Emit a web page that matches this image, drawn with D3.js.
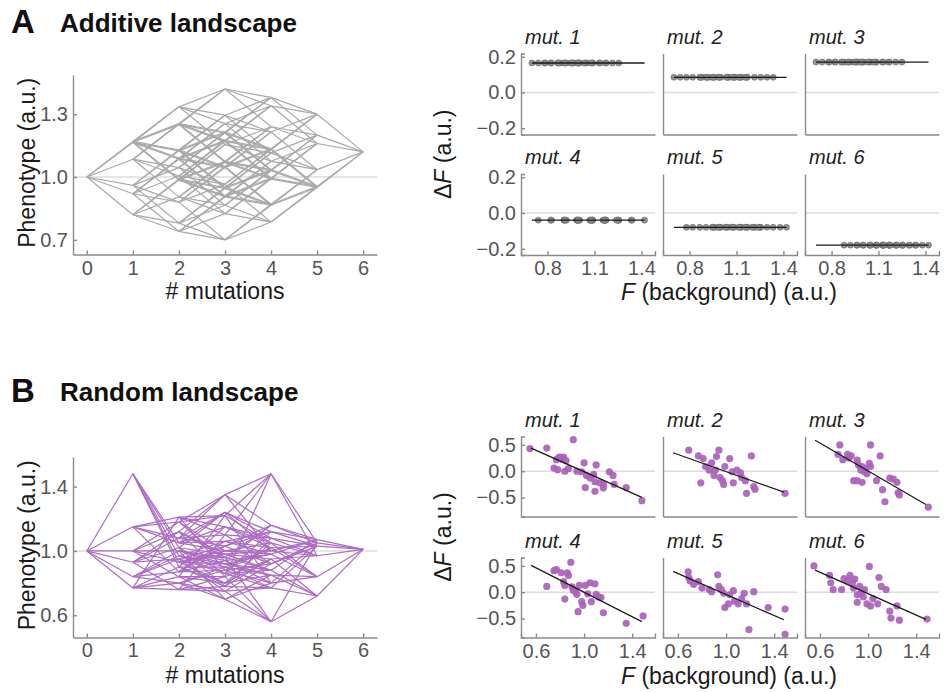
<!DOCTYPE html>
<html lang="en">
<head>
<meta charset="UTF-8">
<title>Additive and random landscapes</title>
<script src="https://cdnjs.cloudflare.com/ajax/libs/d3/7.8.5/d3.min.js"></script>
<style>
  body { margin: 0; background: #fff; }
  svg { font-family: "Liberation Sans", Arial, sans-serif; }
  .axis path, .axis line { stroke: #8a8a8a; stroke-width: 1.4; }
  .axis text { fill: #555; font-size: 20px; font-family: "Liberation Sans", Arial, sans-serif; }
</style>
</head>
<body>
<svg id="fig" width="947" height="692"></svg>
<script>
// panel names and x values of the landscapes
var mutations = ["mut. 1", "mut. 2", "mut. 3", "mut. 4", "mut. 5", "mut. 6"];
var mutationCounts = [0, 1, 2, 3, 4, 5, 6];

// additive landscape: wild type phenotype + effect of each mutation
var additiveBase = 1.0;
var additiveEffects = [0.165, 0.085, 0.17, -0.04, -0.08, -0.18];

// random landscape: phenotype of every genotype (index = bitmask of mutations 1..6)
var randomPhenotypes = [
  1.00, 0.84, 1.15, 0.87, 0.77, 0.80, 1.21, 0.88,
  0.93, 0.95, 1.08, 1.03, 0.76, 0.75, 1.10, 0.92,
  1.00, 1.00, 1.18, 0.94, 0.84, 0.70, 1.22, 0.80,
  1.12, 0.96, 1.35, 1.16, 0.84, 0.56, 1.48, 1.05,
  1.48, 0.97, 1.05, 1.06, 0.90, 0.90, 1.15, 1.02,
  1.02, 0.86, 1.24, 1.12, 0.78, 0.77, 1.08, 1.03,
  0.93, 0.92, 1.00, 0.98, 0.80, 0.85, 1.05, 0.84,
  0.98, 0.88, 1.00, 1.07, 0.95, 0.72, 0.97, 1.01
];

// random landscape, effect of each mutation: [F background, delta F]
var randomMut1 = [[0.55,0.43],[0.69,0.44],[0.75,0.06],[0.77,0.22],[0.78,0.03],[0.79,0.26],[0.80,0.27],
  [0.82,0.23],[0.83,0.27],[0.84,0.0],[0.85,0.2],[0.87,0.05],[0.91,0.60],[0.94,0.0],[0.98,-0.01],[1.00,0.16],
  [1.01,-0.31],[1.02,-0.08],[1.05,-0.13],[1.08,-0.06],[1.09,-0.20],[1.10,0.12],[1.09,-0.38],[1.13,-0.22],
  [1.16,-0.25],[1.16,-0.32],[1.21,-0.01],[1.24,-0.08],[1.25,-0.25],[1.35,-0.31],[1.48,-0.56]];
var randomMut2 = [[0.69,0.40],[0.77,0.29],[0.79,-0.22],[0.81,0.24],[0.83,0.09],[0.86,0.02],[0.88,0.16],
  [0.90,-0.08],[0.91,0.02],[0.92,0.28],[0.94,0.40],[0.95,-0.12],[0.97,-0.18],[0.98,-0.25],[0.99,0.09],
  [1.03,0.24],[1.05,-0.01],[1.06,-0.22],[1.09,0.02],[1.12,-0.03],[1.13,-0.12],[1.16,-0.18],[1.17,-0.42],
  [1.21,0.29],[1.23,-0.29],[1.24,-0.34],[1.49,-0.42]];
var randomMut3 = [[0.75,0.32],[0.765,0.50],[0.79,0.22],[0.83,0.32],[0.84,0.25],[0.86,0.29],[0.88,-0.18],
  [0.91,0.21],[0.91,-0.18],[0.92,0.12],[0.94,0.02],[0.95,0.09],[0.95,-0.21],[0.97,-0.01],[0.98,0.05],
  [0.99,-0.05],[1.01,0.15],[1.02,0.50],[1.02,0.09],[1.07,-0.18],[1.10,0.29],[1.12,-0.35],[1.14,-0.58],
  [1.18,-0.13],[1.21,-0.15],[1.24,-0.21],[1.25,-0.41],[1.26,-0.45],[1.50,-0.68]];
var randomMut4 = [[0.69,0.11],[0.75,0.41],[0.77,0.43],[0.81,0.37],[0.86,0.37],[0.87,0.32],[0.83,0.20],
  [0.84,0.13],[0.84,-0.13],[0.89,0.57],[0.90,0.10],[0.91,0.04],[0.93,0.01],[0.94,-0.04],[0.95,-0.37],
  [0.96,0.13],[0.98,-0.18],[0.99,-0.25],[1.01,0.13],[1.03,-0.03],[1.05,0.18],[1.06,-0.18],[1.09,0.16],
  [1.10,-0.04],[1.12,-0.09],[1.14,-0.10],[1.16,-0.39],[1.35,-0.59],[1.49,-0.45]];
var randomMut5 = [[0.685,0.385],[0.69,0.28],[0.70,0.22],[0.73,0.15],[0.77,0.20],[0.80,0.08],[0.86,0.05],
  [0.88,0.01],[0.93,0.33],[0.94,0.11],[0.96,0.05],[0.98,-0.02],[0.99,-0.29],[1.02,-0.22],[1.03,-0.05],
  [1.06,0.03],[1.07,-0.17],[1.10,-0.22],[1.13,-0.12],[1.15,-0.02],[1.17,-0.22],[1.23,0.01],[1.19,-0.71],
  [1.35,-0.29],[1.49,-0.32],[1.49,-0.80]];
var randomMut6 = [[0.55,0.50],[0.68,0.32],[0.69,0.18],[0.71,0.05],[0.78,0.05],[0.80,0.26],[0.83,0.22],
  [0.85,0.32],[0.87,0.18],[0.88,0.08],[0.89,0.25],[0.91,-0.05],[0.91,-0.19],[0.93,0.11],[0.94,-0.02],
  [0.96,-0.09],[0.97,0.05],[0.99,-0.22],[1.01,0.49],[1.02,-0.26],[1.04,-0.12],[1.08,-0.22],[1.09,0.28],
  [1.11,0.11],[1.15,0.05],[1.18,-0.36],[1.19,-0.49],[1.24,-0.26],[1.26,-0.53],[1.49,-0.51]];
var randomScatter = [randomMut1, randomMut2, randomMut3, randomMut4, randomMut5, randomMut6];

// tick labels
var landscapeTicksA = [0.7, 1.0, 1.3];
var landscapeTicksB = [0.6, 1.0, 1.4];
var deltaTicksA = [-0.2, 0.0, 0.2];
var deltaTicksB = [-0.5, 0.0, 0.5];
var backgroundTicksA = [0.8, 1.1, 1.4];
var backgroundTicksB = [0.6, 1.0, 1.4];

var svg = d3.select("#fig");
var fmt = d3.format(".1f");

function popcount(g) { var n = 0; while (g) { n += g & 1; g >>= 1; } return n; }

// each genotype of the additive landscape is the sum of its mutation effects
var additivePhenotypes = d3.range(64).map(function(g) {
  return additiveBase + d3.sum(additiveEffects, function(e, i) { return (g >> i) & 1 ? e : 0; });
});

// additive: effect of mutation i measured on every background without it
var additiveScatter = additiveEffects.map(function(e, i) {
  return d3.range(64).filter(function(g) { return !(g & (1 << i)); }).map(function(g) {
    return [additivePhenotypes[g], additivePhenotypes[g | (1 << i)] - additivePhenotypes[g]];
  });
});

// links between genotypes that differ by one mutation
function hypercubeEdges(phen) {
  var edges = [];
  phen.forEach(function(p, g) {
    for (var i = 0; i < 6; i++) {
      if (!(g & (1 << i))) edges.push({k: popcount(g), from: p, to: phen[g | (1 << i)]});
    }
  });
  return edges;
}

function drawLandscape(opt) {
  var x = d3.scaleLinear().domain([-0.3, 6.3]).range([73, 377]);
  var y = d3.scaleLinear().domain(opt.yDomain).range([opt.bottom, opt.top]);
  var g = svg.append("g");

  g.append("line")
    .attr("x1", x.range()[0]).attr("x2", x.range()[1])
    .attr("y1", y(1)).attr("y2", y(1))
    .attr("stroke", "#dcdcdc").attr("stroke-width", 1.6);

  g.selectAll(".edge")
    .data(hypercubeEdges(opt.phen))
    .enter().append("line")
      .attr("x1", function(d) { return x(d.k); })
      .attr("x2", function(d) { return x(d.k + 1); })
      .attr("y1", function(d) { return y(d.from); })
      .attr("y2", function(d) { return y(d.to); })
      .attr("stroke", opt.color)
      .attr("stroke-width", 1.2);

  g.append("g").attr("class", "axis")
    .attr("transform", "translate(0," + opt.bottom + ")")
    .call(d3.axisBottom(x).tickValues(mutationCounts).tickFormat(d3.format("d"))
      .tickSize(-4).tickSizeOuter(0).tickPadding(opt.tickPad));
  g.append("g").attr("class", "axis")
    .attr("transform", "translate(73,0)")
    .call(d3.axisLeft(y).tickValues(opt.ticks).tickFormat(fmt).tickSize(-4).tickSizeOuter(0).tickPadding(5));

  g.append("text")
    .attr("transform", "translate(35," + ((opt.top + opt.bottom) / 2 - 2) + ") rotate(-90)")
    .attr("text-anchor", "middle").attr("font-size", 23).attr("fill", "#1a1a1a")
    .text("Phenotype (a.u.)");
  g.append("text")
    .attr("x", 225).attr("y", opt.bottom + opt.titleGap)
    .attr("text-anchor", "middle").attr("font-size", 23).attr("fill", "#1a1a1a")
    .text("# mutations");
}

function drawScatterGrid(opt) {
  var w = 134, h = opt.height;
  var fullRange = d3.extent(opt.phen);
  mutations.forEach(function(name, i) {
    var col = i % 3, row = Math.floor(i / 3);
    var left = 521 + col * 142, top = opt.rowTops[row];
    var x = d3.scaleLinear().domain(opt.xDomain).range([left, left + w]);
    var y = d3.scaleLinear().domain(opt.yDomain).range([top + h, top]);
    var pts = opt.scatter[i];

    // least squares line
    var mx = d3.mean(pts, function(d) { return d[0]; }), my = d3.mean(pts, function(d) { return d[1]; });
    var sxx = d3.sum(pts, function(d) { return (d[0] - mx) * (d[0] - mx); });
    var sxy = d3.sum(pts, function(d) { return (d[0] - mx) * (d[1] - my); });
    var slope = sxx ? sxy / sxx : 0, icpt = my - slope * mx;

    var g = svg.append("g");
    g.append("line")
      .attr("x1", left).attr("x2", left + w)
      .attr("y1", y(0)).attr("y2", y(0))
      .attr("stroke", "#dcdcdc").attr("stroke-width", 1.5);

    g.selectAll("circle").data(pts).enter().append("circle")
      .attr("cx", function(d) { return x(d[0]); })
      .attr("cy", function(d) { return y(d[1]); })
      .attr("r", opt.r)
      .attr("fill", opt.dot)
      .attr("stroke", opt.dotStroke).attr("stroke-width", 0.6)
      .attr("fill-opacity", 0.92);

    g.append("line")
      .attr("x1", x(fullRange[0])).attr("x2", x(fullRange[1]))
      .attr("y1", y(icpt + slope * fullRange[0])).attr("y2", y(icpt + slope * fullRange[1]))
      .attr("stroke", "#1a1a1a").attr("stroke-width", 1.3);

    var yAxis = d3.axisLeft(y).tickSizeOuter(0);
    if (col === 0) yAxis.tickValues(opt.yTicks).tickFormat(fmt).tickSize(-4).tickPadding(5);
    else yAxis.tickValues([]);
    g.append("g").attr("class", "axis").attr("transform", "translate(" + left + ",0)").call(yAxis);

    var xAxis = d3.axisBottom(x).tickSizeOuter(0);
    if (row === 1) xAxis.tickValues(opt.xTicks).tickFormat(fmt).tickSize(-4).tickPadding(6);
    else xAxis.tickValues([]);
    g.append("g").attr("class", "axis").attr("transform", "translate(0," + (top + h) + ")").call(xAxis);

    g.append("text")
      .attr("x", left + 4).attr("y", top - 10)
      .attr("font-size", 20).attr("font-style", "italic").attr("fill", "#222")
      .text(name);
  });

  var midY = (opt.rowTops[0] + opt.rowTops[1] + h) / 2;
  var lab = svg.append("text")
    .attr("transform", "translate(451," + midY + ") rotate(-90)")
    .attr("text-anchor", "middle").attr("font-size", 23).attr("fill", "#1a1a1a");
  lab.append("tspan").text("\u0394");
  lab.append("tspan").attr("font-style", "italic").text("F");
  lab.append("tspan").text(" (a.u.)");

  var xl = svg.append("text")
    .attr("x", 729).attr("y", opt.rowTops[1] + h + opt.titleGap)
    .attr("text-anchor", "middle").attr("font-size", 23).attr("fill", "#1a1a1a");
  xl.append("tspan").attr("font-style", "italic").text("F");
  xl.append("tspan").text(" (background) (a.u.)");
}

function panelTitle(letter, title, baseline) {
  svg.append("text").attr("x", 11).attr("y", baseline + 1)
    .attr("font-size", 33).attr("font-weight", "bold").attr("fill", "#111").text(letter);
  svg.append("text").attr("x", 60).attr("y", baseline)
    .attr("font-size", 26).attr("font-weight", "bold").attr("fill", "#111").text(title);
}

// A: additive landscape
panelTitle("A", "Additive landscape", 32);
drawLandscape({phen: additivePhenotypes, top: 75, bottom: 254.5, yDomain: [0.63, 1.487],
  ticks: landscapeTicksA, color: "#a9a9a9", tickPad: 6, titleGap: 44});
drawScatterGrid({phen: additivePhenotypes, scatter: additiveScatter, rowTops: [53.5, 174], height: 81,
  xDomain: [0.63, 1.487], yDomain: [-0.235, 0.218], xTicks: backgroundTicksA, yTicks: deltaTicksA,
  r: 3, dot: "#8a8a8a", dotStroke: "#666", titleGap: 45});

// B: random landscape
panelTitle("B", "Random landscape", 401);
drawLandscape({phen: randomPhenotypes, top: 457, bottom: 637.5, yDomain: [0.462, 1.584],
  ticks: landscapeTicksB, color: "#ab6dc0", tickPad: 5, titleGap: 45.5});
drawScatterGrid({phen: randomPhenotypes, scatter: randomScatter, rowTops: [436.5, 557.5], height: 80,
  xDomain: [0.476, 1.589], yDomain: [-0.86, 0.66], xTicks: backgroundTicksB, yTicks: deltaTicksB,
  r: 3.6, dot: "#a962b9", dotStroke: "none", titleGap: 46});
</script>
</body>
</html>
